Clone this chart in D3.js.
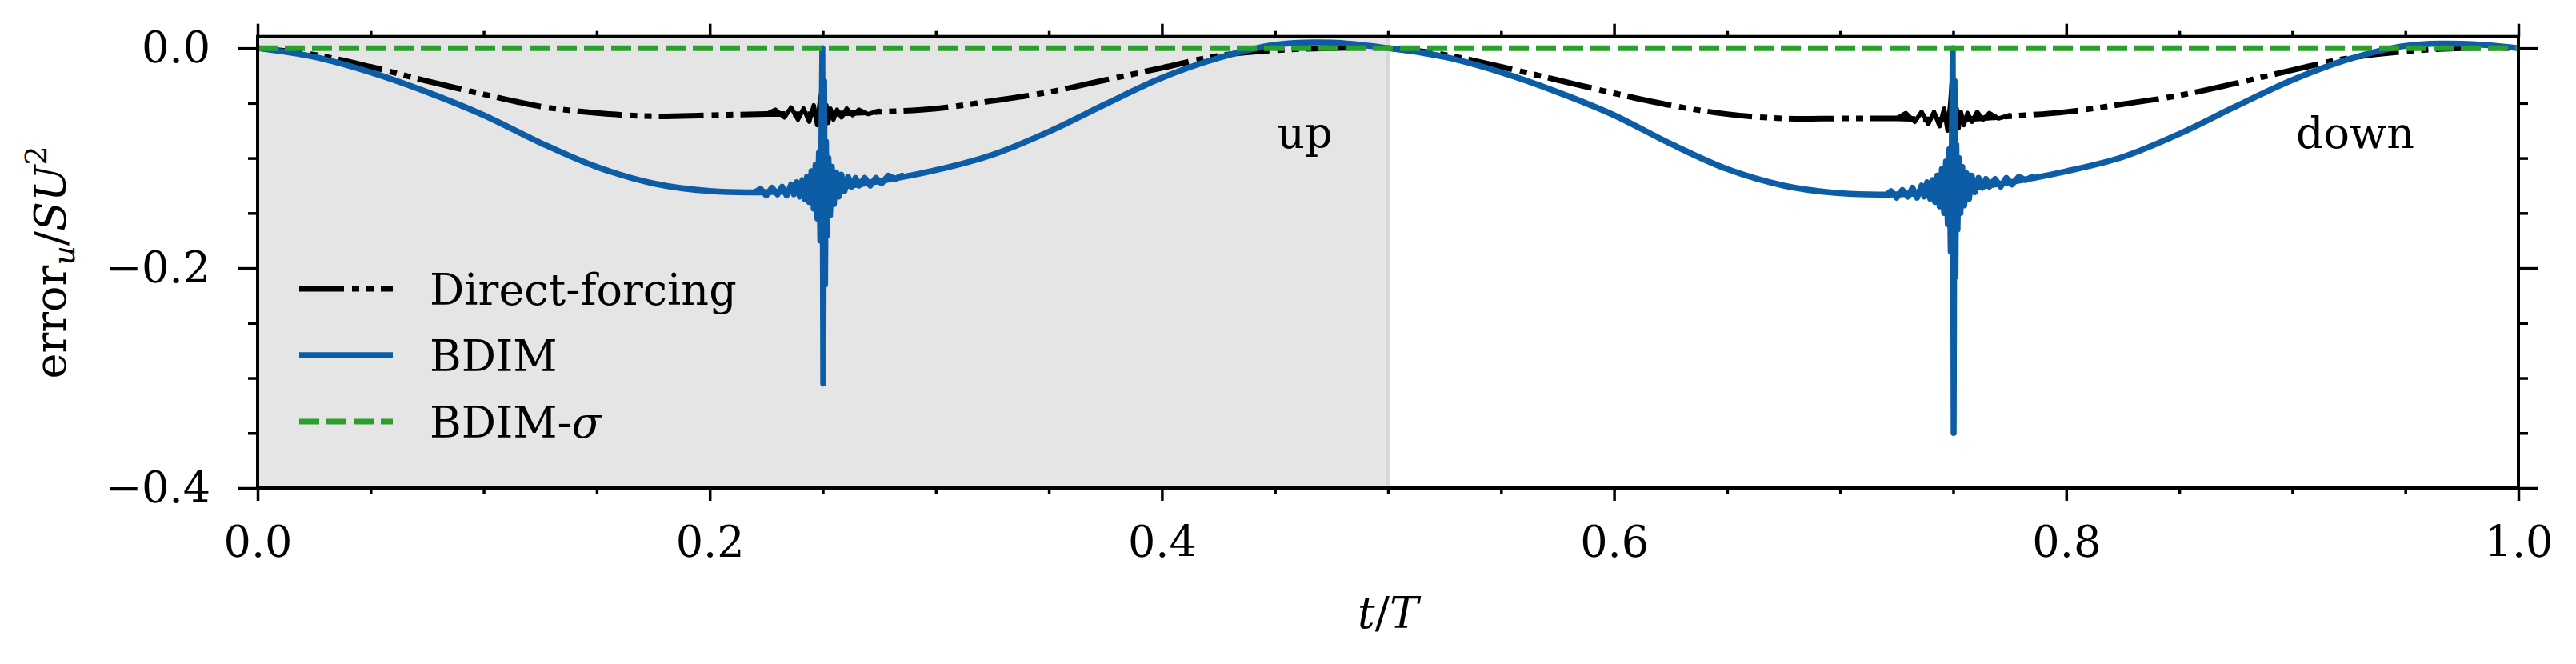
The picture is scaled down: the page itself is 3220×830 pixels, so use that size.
<!DOCTYPE html>
<html>
<head>
<meta charset="utf-8">
<script src="https://cdn.jsdelivr.net/npm/d3@7"></script>
<style>
  html, body { margin: 0; padding: 0; background: #fff; }
  svg { display: block; }
</style>
</head>
<body>
<svg id="app" width="3220" height="830"></svg>
<script>
// time grid (t/T) and the two smooth curves
const tGrid = [0, 0.025, 0.05, 0.075, 0.1, 0.125, 0.15, 0.175, 0.2, 0.225,
  0.25, 0.275, 0.3, 0.325, 0.35, 0.375, 0.4, 0.425, 0.45, 0.475,
  0.5, 0.525, 0.55, 0.575, 0.6, 0.625, 0.65, 0.675, 0.7, 0.725,
  0.75, 0.775, 0.8, 0.825, 0.85, 0.875, 0.9, 0.925, 0.95, 0.975, 1.0];

const bdimBase = [0.000, -0.008, -0.022, -0.040, -0.061, -0.086, -0.108, -0.123, -0.130, -0.131,
  -0.128, -0.121, -0.111, -0.097, -0.076, -0.051, -0.027, -0.009, 0.003, 0.005,
  0.000, -0.008, -0.022, -0.040, -0.061, -0.087, -0.110, -0.125, -0.132, -0.133,
  -0.129, -0.122, -0.112, -0.099, -0.078, -0.053, -0.029, -0.010, 0.002, 0.004, 0.000];

const directBase = [0.000, -0.006, -0.017, -0.030, -0.042, -0.053, -0.059, -0.062, -0.061, -0.060,
  -0.060, -0.058, -0.055, -0.048, -0.040, -0.029, -0.018, -0.007, -0.002, 0.000,
  0.000, -0.006, -0.017, -0.029, -0.041, -0.052, -0.060, -0.064, -0.064, -0.064,
  -0.065, -0.062, -0.058, -0.051, -0.043, -0.032, -0.020, -0.009, -0.003, 0.000, 0.000];

// noisy bursts around t/T = 0.25 and 0.75 (t, value)
const bdimBursts = [
  [[0.2200, -0.131], [0.2225, -0.128], [0.2250, -0.134], [0.2275, -0.127], [0.2300, -0.133],
   [0.2320, -0.126], [0.2340, -0.134], [0.2360, -0.124], [0.2372, -0.133], [0.2385, -0.122],
   [0.2398, -0.135], [0.2410, -0.120], [0.2420, -0.137], [0.2430, -0.117], [0.2440, -0.140],
   [0.2450, -0.112], [0.2460, -0.146], [0.2468, -0.106], [0.2476, -0.155], [0.2483, -0.095],
   [0.2489, -0.175], [0.2494, -0.080], [0.2498, 0.000], [0.2502, -0.305], [0.2506, -0.030],
   [0.2510, -0.215], [0.2514, -0.085], [0.2519, -0.170], [0.2525, -0.100], [0.2532, -0.152],
   [0.2540, -0.108], [0.2549, -0.142], [0.2559, -0.113], [0.2570, -0.135], [0.2582, -0.115],
   [0.2596, -0.130], [0.2612, -0.117], [0.2628, -0.126], [0.2645, -0.118], [0.2660, -0.125],
   [0.2685, -0.118], [0.2710, -0.125], [0.2735, -0.118], [0.2760, -0.123], [0.2790, -0.116],
   [0.2820, -0.119], [0.2850, -0.116]],
  [[0.7200, -0.134], [0.7225, -0.130], [0.7250, -0.136], [0.7275, -0.129], [0.7300, -0.135],
   [0.7320, -0.127], [0.7340, -0.136], [0.7360, -0.125], [0.7372, -0.135], [0.7385, -0.122],
   [0.7398, -0.137], [0.7410, -0.120], [0.7420, -0.140], [0.7430, -0.116], [0.7440, -0.144],
   [0.7450, -0.110], [0.7460, -0.150], [0.7468, -0.103], [0.7476, -0.160], [0.7483, -0.092],
   [0.7489, -0.185], [0.7494, -0.085], [0.7498, 0.000], [0.7502, -0.350], [0.7506, -0.030],
   [0.7510, -0.208], [0.7514, -0.088], [0.7519, -0.165], [0.7525, -0.100], [0.7532, -0.150],
   [0.7540, -0.108], [0.7549, -0.143], [0.7559, -0.114], [0.7570, -0.137], [0.7582, -0.116],
   [0.7596, -0.131], [0.7612, -0.118], [0.7628, -0.127], [0.7645, -0.119], [0.7660, -0.126],
   [0.7685, -0.119], [0.7710, -0.126], [0.7735, -0.118], [0.7760, -0.124], [0.7790, -0.117],
   [0.7820, -0.120], [0.7850, -0.117]]
];

const directBursts = [
  [[0.2250, -0.060], [0.2290, -0.056], [0.2330, -0.063], [0.2360, -0.054], [0.2390, -0.065],
   [0.2415, -0.055], [0.2440, -0.067], [0.2460, -0.052], [0.2475, -0.070], [0.2487, -0.048],
   [0.2494, -0.040], [0.2500, -0.078], [0.2505, -0.045], [0.2510, -0.072], [0.2516, -0.052],
   [0.2524, -0.068], [0.2534, -0.055], [0.2547, -0.065], [0.2563, -0.056], [0.2583, -0.063],
   [0.2606, -0.055], [0.2632, -0.061], [0.2660, -0.056], [0.2700, -0.060], [0.2750, -0.057]],
  [[0.7250, -0.064], [0.7290, -0.059], [0.7330, -0.067], [0.7360, -0.058], [0.7390, -0.069],
   [0.7415, -0.058], [0.7440, -0.071], [0.7460, -0.055], [0.7475, -0.075], [0.7487, -0.050],
   [0.7494, -0.030], [0.7500, -0.084], [0.7505, -0.045], [0.7510, -0.077], [0.7516, -0.055],
   [0.7524, -0.073], [0.7534, -0.058], [0.7547, -0.070], [0.7563, -0.059], [0.7583, -0.067],
   [0.7606, -0.058], [0.7632, -0.065], [0.7660, -0.059], [0.7700, -0.064], [0.7750, -0.061]]
];

const sigmaT = [0, 1];
const sigmaV = [0, 0];

const xMajor = [0, 0.2, 0.4, 0.6, 0.8, 1.0];
const xMinor = [0.05, 0.1, 0.15, 0.25, 0.3, 0.35, 0.45, 0.5, 0.55, 0.65, 0.7, 0.75, 0.85, 0.9, 0.95];
const yMajor = [0, -0.2, -0.4];
const yMinor = [-0.05, -0.1, -0.15, -0.25, -0.3, -0.35];

const FONT = "DejaVu Serif";
const FS = 54;

const svg = d3.select("#app");
const plotL = 322, plotR = 3148, plotT = 45.7, plotB = 610;

const x = d3.scaleLinear().domain([0, 1]).range([plotL, plotR]);
const y = d3.scaleLinear().domain([-0.4, 0.0105]).range([plotB, plotT]);

const smooth = d3.line()
  .x(function (d) { return x(d.t) })
  .y(function (d) { return y(d.v) })
  .curve(d3.curveCatmullRom.alpha(0.5));
const jagged = d3.line()
  .x(function (d) { return x(d[0]) })
  .y(function (d) { return y(d[1]) });

// shaded "up" half
svg.append("rect")
  .attr("x", x(0)).attr("y", plotT)
  .attr("width", x(0.5) - x(0)).attr("height", plotB - plotT)
  .attr("fill", "#e5e5e5");
svg.append("line")
  .attr("x1", x(0.5)).attr("x2", x(0.5))
  .attr("y1", plotT).attr("y2", plotB)
  .attr("stroke", "#d8d8d8").attr("stroke-width", 5);

const series = [
  { name: "Direct-forcing", base: directBase, bursts: directBursts, color: "#000000", dash: "56,10,9,9,9,9", width: 7 },
  { name: "BDIM", base: bdimBase, bursts: bdimBursts, color: "#0C5DA5", dash: null, width: 7.5 },
  { name: "BDIM-σ", base: null, bursts: [], color: "#2ca02c", dash: "25,9", width: 7 }
];

const plot = svg.append("g");
series.forEach(s => {
  const data = s.base
    ? tGrid.map((t, i) => ({ t: t, v: s.base[i] }))
    : sigmaT.map((t, i) => ({ t: t, v: sigmaV[i] }));
  plot.append("path")
    .datum(data)
    .attr("d", smooth)
    .attr("fill", "none")
    .attr("stroke", s.color)
    .attr("stroke-width", s.width)
    .attr("stroke-dasharray", s.dash)
    .attr("stroke-linejoin", "round");
  s.bursts.forEach(b => {
    plot.append("path")
      .datum(b)
      .attr("d", jagged)
      .attr("fill", "none")
      .attr("stroke", s.color)
      .attr("stroke-width", s.dash ? 5.5 : s.width)
      .attr("stroke-linejoin", "round")
      .attr("stroke-linecap", "round");
  });
});

// axes: ticks outward on all four sides
function styleAxis(g) {
  g.select(".domain").remove();
  g.selectAll("line").attr("stroke", "#000").attr("stroke-width", 3.5);
  g.attr("font-family", FONT).attr("font-size", FS);
  g.selectAll("text").attr("fill", "#000");
}

svg.append("g").attr("transform", `translate(0,${plotB})`)
  .call(d3.axisBottom(x).tickValues(xMajor).tickSize(16).tickPadding(32).tickFormat(d3.format(".1f")))
  .call(styleAxis);
svg.append("g").attr("transform", `translate(0,${plotB})`)
  .call(d3.axisBottom(x).tickValues(xMinor).tickSize(7).tickFormat(""))
  .call(styleAxis);
svg.append("g").attr("transform", `translate(0,${plotT})`)
  .call(d3.axisTop(x).tickValues(xMajor).tickSize(16).tickFormat(""))
  .call(styleAxis);
svg.append("g").attr("transform", `translate(0,${plotT})`)
  .call(d3.axisTop(x).tickValues(xMinor).tickSize(7).tickFormat(""))
  .call(styleAxis);

svg.append("g").attr("transform", `translate(${plotL},0)`)
  .call(d3.axisLeft(y).tickValues(yMajor).tickSize(25).tickPadding(34).tickFormat(d3.format(".1f")))
  .call(styleAxis);
svg.append("g").attr("transform", `translate(${plotL},0)`)
  .call(d3.axisLeft(y).tickValues(yMinor).tickSize(12).tickFormat(""))
  .call(styleAxis);
svg.append("g").attr("transform", `translate(${plotR},0)`)
  .call(d3.axisRight(y).tickValues(yMajor).tickSize(25).tickFormat(""))
  .call(styleAxis);
svg.append("g").attr("transform", `translate(${plotR},0)`)
  .call(d3.axisRight(y).tickValues(yMinor).tickSize(12).tickFormat(""))
  .call(styleAxis);

// spines
svg.append("rect")
  .attr("x", plotL).attr("y", plotT)
  .attr("width", plotR - plotL).attr("height", plotB - plotT)
  .attr("fill", "none").attr("stroke", "#000").attr("stroke-width", 4);

// legend
const legendRows = [361, 444, 527];
const legend = svg.append("g").attr("font-family", FONT).attr("font-size", FS);
series.forEach((s, i) => {
  legend.append("line")
    .attr("x1", 374).attr("x2", 491)
    .attr("y1", legendRows[i]).attr("y2", legendRows[i])
    .attr("stroke", s.color).attr("stroke-width", s.width)
    .attr("stroke-dasharray", s.dash);
  const txt = legend.append("text")
    .attr("x", 537).attr("y", legendRows[i] + 20)
    .attr("fill", "#000");
  if (s.name === "BDIM-σ") {
    txt.append("tspan").text("BDIM-");
    txt.append("tspan").attr("font-style", "italic").text("σ");
  } else {
    txt.text(s.name);
  }
});

// annotations
svg.append("text").attr("x", 1631).attr("y", 185)
  .attr("text-anchor", "middle").attr("font-family", FONT).attr("font-size", FS)
  .text("up");
svg.append("text").attr("x", 2944).attr("y", 185)
  .attr("text-anchor", "middle").attr("font-family", FONT).attr("font-size", FS)
  .text("down");

// x label
const xl = svg.append("text").attr("x", (plotL + plotR) / 2).attr("y", 785)
  .attr("text-anchor", "middle").attr("font-family", FONT).attr("font-size", FS);
xl.append("tspan").attr("font-style", "italic").text("t");
xl.append("tspan").text("/");
xl.append("tspan").attr("font-style", "italic").text("T");

// y label
const yl = svg.append("text")
  .attr("transform", `translate(82,${(plotT + plotB) / 2}) rotate(-90)`)
  .attr("text-anchor", "middle").attr("font-family", FONT).attr("font-size", FS);
yl.append("tspan").text("error");
yl.append("tspan").attr("font-style", "italic").attr("font-size", 38).attr("dy", 11).text("u");
yl.append("tspan").attr("dy", -11).text("/");
yl.append("tspan").attr("font-style", "italic").text("SU");
yl.append("tspan").attr("font-size", 38).attr("dy", -24).text("2");
</script>
</body>
</html>
